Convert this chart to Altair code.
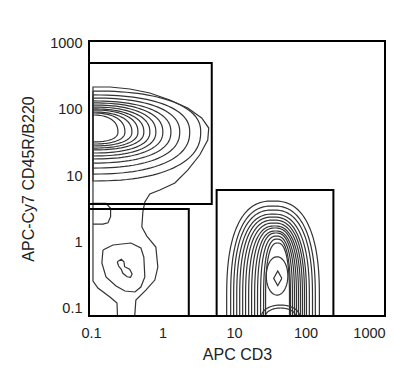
import numpy as np
import pandas as pd
import altair as alt

# ---- axis ----
x_ticks = [0.1, 1, 10, 100, 1000]
y_ticks = [0.1, 1, 10, 100, 1000]
x_domain = [0.0938, 1290]
y_domain = [0.0757, 1110]

# ---- gates (rectangles) ----
gate_x1 = [0.0938, 0.0938, 5.71]
gate_x2 = [4.88, 2.33, 245]
gate_y1 = [3.77, 0.0757, 0.0757]
gate_y2 = [515, 3.16, 6.14]

# ---- upper-left population (B220+): nested rings anchored on the left edge ----
ul_left = 0.1066
ul_tip = 46.4
ul_right = [3.42, 2.40, 1.74, 1.31, 1.01, 0.807, 0.665, 0.548, 0.453, 0.373, 0.298, 0.238]
ul_top = [194, 169, 152, 137, 128, 119, 111, 104, 100, 93.3, 90.2, 84.0]
ul_bottom = [8.40, 10.7, 13.2, 15.7, 18.1, 20.1, 22.3, 24.8, 26.5, 28.5, 30.5, 32.8]

# outermost contour (runs from upper population down into lower-left gate)
outer_x = [0.398, 0.424, 0.585, 0.781, 0.860, 0.807, 0.604, 0.514, 0.531, 0.566, 0.665, 0.916,
           1.49, 2.25, 3.31, 4.29, 4.43, 3.53, 2.25, 1.265, 0.665, 0.350, 0.184, 0.1066,
           0.1066, 0.125, 0.184, 0.231, 0.238]
outer_y = [0.05, 0.132, 0.187, 0.265, 0.418, 0.839, 1.23, 1.69, 2.85, 4.04, 5.34, 6.14,
           7.83, 12.3, 20.8, 35.1, 53.3, 75.6, 107, 142, 181, 208, 223, 223,
           0.256, 0.201, 0.147, 0.119, 0.05]

# lower-left population
ll_mid_x = [0.147, 0.203, 0.361, 0.498, 0.548, 0.566, 0.498, 0.411, 0.298, 0.224, 0.162, 0.142, 0.147]
ll_mid_y = [0.757, 0.901, 0.966, 0.811, 0.593, 0.295, 0.208, 0.175, 0.181, 0.216, 0.295, 0.481, 0.757]
ll_core_x = [0.233, 0.265, 0.289, 0.295, 0.347, 0.376, 0.357, 0.320, 0.279, 0.265, 0.243, 0.233]
ll_core_y = [0.503, 0.547, 0.503, 0.423, 0.386, 0.327, 0.292, 0.298, 0.336, 0.386, 0.433, 0.503]
ll_small_x = [0.1066, 0.162, 0.188, 0.188, 0.173, 0.147, 0.1066]
ll_small_y = [3.86, 3.86, 3.24, 2.42, 1.96, 1.87, 1.87]

# lower-right population (CD3+): arches rising from the bottom edge
lr_centre_y = 0.142
lr_left = [7.89, 8.97, 9.87, 10.9, 12.0, 13.2, 14.5, 16.0, 17.6, 19.4, 21.3, 23.5, 25.9, 27.6]
lr_right = [156, 137, 125, 113, 103, 96.6, 90.5, 84.9, 79.6, 74.6, 70.0, 65.6, 61.5, 59.6]
lr_top = [4.18, 3.51, 3.05, 2.65, 2.39, 2.15, 1.94, 1.75, 1.63, 1.47, 1.37, 1.23, 1.11, 0.966]
lr_low_left = [24.3, 27.6]
lr_low_right = [82.2, 72.3]
lr_low_top = [0.111, 0.100]
lr_core_left = [28.2, 35.8]
lr_core_right = [56.5, 46.6]
lr_core_top = [0.598, 0.364]
lr_core_bottom = [0.157, 0.218]
lr_core_shape = [2, 1]

L = np.log10
recs = []
cid = [0]


def add(xs, ys):
    for k, (a, b) in enumerate(zip(xs, ys)):
        recs.append({"x": float(a), "y": float(b), "c": cid[0], "o": k})
    cid[0] += 1


def sp(v, n):
    return np.sign(v) * np.abs(v) ** (2 / n)


# upper-left rings
yc = L(ul_tip)
xl = L(ul_left)
tt = np.linspace(np.pi / 2, -np.pi / 2, 60)
for r, t, b in zip(ul_right, ul_top, ul_bottom):
    xs = xl + (L(r) - xl) * sp(np.cos(tt), 2.3)
    s = sp(np.sin(tt), 2.3)
    ys = np.where(s >= 0, yc + (L(t) - yc) * s, yc + (yc - L(b)) * s)
    xs = np.append(xs, xs[0])
    ys = np.append(ys, ys[0])
    add(10 ** xs, 10 ** ys)

add(outer_x, outer_y)
add(ll_mid_x, ll_mid_y)
add(ll_core_x, ll_core_y)
add(ll_small_x, ll_small_y)


def arch(lv, rv, tv, cy, n):
    a, b = L(lv), L(rv)
    cx, rx = (a + b) / 2, (b - a) / 2
    ycl = L(cy)
    ry = L(tv) - ycl
    th = np.linspace(np.pi, 0, 70)
    xs = np.concatenate([[a], cx + rx * sp(np.cos(th), n), [b]])
    ys = np.concatenate([[L(0.05)], ycl + ry * sp(np.sin(th), n), [L(0.05)]])
    add(10 ** xs, 10 ** ys)


for lv, rv, tv in zip(lr_left, lr_right, lr_top):
    arch(lv, rv, tv, lr_centre_y, 2.5)
for lv, rv, tv in zip(lr_low_left, lr_low_right, lr_low_top):
    arch(lv, rv, tv, y_domain[0], 2)

for lv, rv, tv, bv, n in zip(lr_core_left, lr_core_right, lr_core_top, lr_core_bottom, lr_core_shape):
    cx, rx = (L(lv) + L(rv)) / 2, (L(rv) - L(lv)) / 2
    cy, ry = (L(tv) + L(bv)) / 2, (L(tv) - L(bv)) / 2
    th = np.linspace(0, 2 * np.pi, 80)
    xs = cx + rx * sp(np.cos(th), n)
    ys = cy + ry * sp(np.sin(th), n)
    add(10 ** xs, 10 ** ys)

contours = pd.DataFrame(recs)
gates = pd.DataFrame({"x1": gate_x1, "x2": gate_x2, "y1": gate_y1, "y2": gate_y2})

xs_ = alt.Scale(type="log", domain=x_domain, nice=False)
ys_ = alt.Scale(type="log", domain=y_domain, nice=False)

ax_common = dict(domain=False, ticks=False, tickSize=0, grid=False,
                 labelFont="Liberation Sans", labelFontSize=14.5, labelColor="#222",
                 titleFont="Liberation Sans", titleFontSize=16, titleFontWeight="normal",
                 titleColor="#222", format="~g")

xaxis = alt.Axis(values=x_ticks, title="APC CD3", labelPadding=10,
                 labelAlign={"expr": "datum.value >= 1000 ? 'right' : 'center'"},
                 labelOffset={"expr": "datum.value >= 1000 ? 8 : 0"},
                 titleBaseline="alphabetic", titleY=43, **ax_common)
yaxis = alt.Axis(values=y_ticks, title="APC-Cy7 CD45R/B220", labelPadding=7, titlePadding=13, **ax_common)

lines = alt.Chart(contours).mark_line(clip=True, stroke="#333333", strokeWidth=1.2).encode(
    x=alt.X("x:Q", scale=xs_, axis=xaxis),
    y=alt.Y("y:Q", scale=ys_, axis=yaxis),
    detail="c:N",
    order="o:Q",
)

rects = alt.Chart(gates).mark_rect(fill=None, fillOpacity=0, stroke="black", strokeWidth=2).encode(
    x=alt.X("x1:Q", scale=xs_),
    x2="x2:Q",
    y=alt.Y("y1:Q", scale=ys_),
    y2="y2:Q",
)

chart = alt.layer(lines, rects).properties(
    width=296, height=275,
    autosize=alt.AutoSizeParams(type="none"),
    padding={"left": 81, "top": 33, "right": 1, "bottom": 47},
    background="white",
).configure_view(stroke="black", strokeWidth=2)

chart.save("out.html", embed_options={"renderer": "svg", "actions": False})
